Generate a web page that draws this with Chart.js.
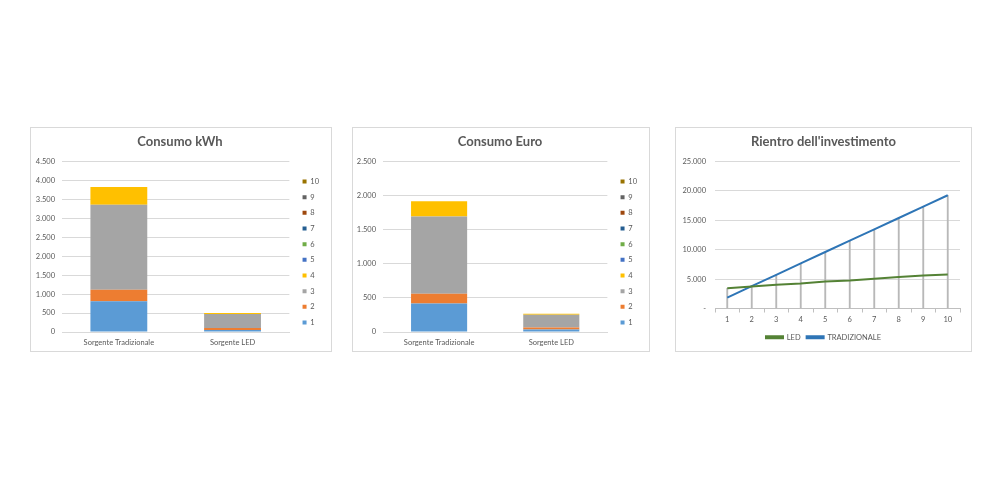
<!DOCTYPE html>
<html>
<head>
<meta charset="utf-8">
<script src="https://cdn.jsdelivr.net/npm/chart.js@4"></script>
<style>
  html, body { margin: 0; padding: 0; background: #fff; }
  body { width: 1000px; height: 500px; position: relative; overflow: hidden; }
  .box { position: absolute; top: 127px; height: 225px; border: 1px solid #d9d9d9; box-sizing: border-box; }
  .box canvas { display: block; }
</style>
</head>
<body>
<div class="box" style="left:30px;width:302px"><canvas id="kwh"></canvas></div>
<div class="box" style="left:352px;width:298px"><canvas id="euro"></canvas></div>
<div class="box" style="left:675px;width:297px"><canvas id="rientro"></canvas></div>

<script>
// categories
const sorgenti = ["Sorgente Tradizionale", "Sorgente LED"];
const serieNomi = ["1", "2", "3", "4", "5", "6", "7", "8", "9", "10"];
const serieColori = ["#5b9bd5", "#ed7d31", "#a5a5a5", "#ffc000", "#4472c4",
  "#70ad47", "#255e91", "#9e480e", "#636363", "#997300"];

// Consumo kWh, one pair [Tradizionale, LED] per series
const kwh1 = [813, 55];
const kwh2 = [300, 50];
const kwh3 = [2245, 370];
const kwh4 = [470, 30];
const kwhVuoto = [0, 0]; // series 5..10 are empty
const kwhSerie = [kwh1, kwh2, kwh3, kwh4, kwhVuoto, kwhVuoto, kwhVuoto, kwhVuoto, kwhVuoto, kwhVuoto];

// Consumo Euro
const euro1 = [418, 35];
const euro2 = [143, 32];
const euro3 = [1132, 185];
const euro4 = [226, 14];
const euroVuoto = [0, 0];
const euroSerie = [euro1, euro2, euro3, euro4, euroVuoto, euroVuoto, euroVuoto, euroVuoto, euroVuoto, euroVuoto];

// Rientro dell'investimento
const anni = ["1", "2", "3", "4", "5", "6", "7", "8", "9", "10"];
const led = [3430, 3760, 4050, 4270, 4610, 4780, 5060, 5340, 5620, 5790];
const tradizionale = [1860, 3800, 5730, 7680, 9610, 11540, 13470, 15400, 17330, 19270];

// axis ranges
const kwhAsse = { max: 4500, step: 500 };
const euroAsse = { max: 2500, step: 500 };
const rientroAsse = { max: 25000, step: 5000 };

const testo = "#595959";
const griglia = "#d9d9d9";
Chart.defaults.font.family = "Lato, 'Open Sans', sans-serif";
Chart.defaults.color = testo;
Chart.defaults.animation = false;

function migliaia(v) {
  return String(v).replace(/\B(?=(\d{3})+(?!\d))/g, ".");
}

function titolo(text) {
  return {
    display: true,
    text: text,
    color: testo,
    font: { size: 13, weight: "bold" },
    padding: { top: 0, bottom: 12 }
  };
}

// invisible axis, only keeps some room on the right of the plot
function spazio(w) {
  return {
    type: "linear",
    position: "right",
    display: true,
    grid: { display: false, drawTicks: false },
    border: { display: false },
    ticks: { display: false },
    afterFit: (s) => { s.width = w; }
  };
}

function graficoBarre(id, serie, asse, yWidth) {
  new Chart(document.getElementById(id), {
    type: "bar",
    data: {
      labels: sorgenti,
      datasets: serie.map((valori, i) => ({
        label: serieNomi[i],
        data: valori,
        backgroundColor: serieColori[i],
        borderWidth: 0,
        categoryPercentage: 1,
        barPercentage: 0.5
      }))
    },
    options: {
      responsive: true,
      maintainAspectRatio: false,
      layout: { padding: { left: 0, right: 2, top: 6, bottom: -2 } },
      plugins: {
        title: titolo(id === "kwh" ? "Consumo kWh" : "Consumo Euro"),
        tooltip: { enabled: false },
        legend: {
          position: "right",
          reverse: true,
          // empty title only pushes the list down a little
          title: { display: true, text: "", font: { size: 7.5 }, padding: { top: 8, bottom: 0 } },
          labels: {
            boxWidth: 4,
            boxHeight: 4,
            padding: 8.17,
            color: testo,
            font: { size: 7.5 }
          }
        }
      },
      scales: {
        x: {
          stacked: true,
          grid: { display: false, drawTicks: false },
          border: { color: griglia },
          ticks: { padding: 6, maxRotation: 0, font: { size: 7.5 }, color: testo }
        },
        y: {
          stacked: true,
          min: 0,
          max: asse.max,
          grid: { color: griglia, drawTicks: false },
          border: { display: false },
          ticks: {
            stepSize: asse.step,
            padding: 7,
            font: { size: 7.5 },
            color: testo,
            callback: (v) => migliaia(v)
          },
          afterFit: (s) => { s.width = yWidth; }
        },
        gap: spazio(5)
      }
    }
  });
}

graficoBarre("kwh", kwhSerie, kwhAsse, 31);
graficoBarre("euro", euroSerie, euroAsse, 30);

// drop lines from the higher point of each year down to the axis
const lineeVerticali = led.map((v, i) => Math.max(v, tradizionale[i]));

new Chart(document.getElementById("rientro"), {
  data: {
    labels: anni,
    datasets: [
      {
        type: "line",
        label: "LED",
        data: led,
        borderColor: "#548235",
        backgroundColor: "#548235",
        borderWidth: 2,
        pointRadius: 0,
        tension: 0,
        order: 1
      },
      {
        type: "line",
        label: "TRADIZIONALE",
        data: tradizionale,
        borderColor: "#2e75b6",
        backgroundColor: "#2e75b6",
        borderWidth: 2,
        pointRadius: 0,
        tension: 0,
        order: 1
      },
      {
        type: "bar",
        label: "drop",
        data: lineeVerticali,
        backgroundColor: "#b8b8b8",
        borderWidth: 0,
        barThickness: 1.2,
        order: 2
      }
    ]
  },
  options: {
    responsive: true,
    maintainAspectRatio: false,
    layout: { padding: { left: 0, right: 0, top: 6, bottom: 0 } },
    plugins: {
      title: titolo("Rientro dell'investimento"),
      tooltip: { enabled: false },
      legend: {
        position: "bottom",
        labels: {
          boxWidth: 17,
          boxHeight: 2,
          padding: 6,
          color: testo,
          font: { size: 7.5 },
          filter: (item) => item.text !== "drop"
        }
      }
    },
    scales: {
      x: {
        offset: true,
        grid: { offset: true, drawOnChartArea: false, drawTicks: true, tickLength: 4, color: "#bfbfbf" },
        border: { color: "#bfbfbf" },
        ticks: { padding: 3, maxRotation: 0, font: { size: 7.5 }, color: testo }
      },
      y: {
        min: 0,
        max: rientroAsse.max,
        grid: { color: griglia, drawTicks: false },
        border: { display: false },
        ticks: {
          stepSize: rientroAsse.step,
          padding: 9,
          font: { size: 7.5 },
          color: testo,
          callback: (v) => (v === 0 ? "-" : migliaia(v))
        },
        afterFit: (s) => { s.width = 39; }
      },
      gap: spazio(11)
    }
  }
});
</script>
</body>
</html>
